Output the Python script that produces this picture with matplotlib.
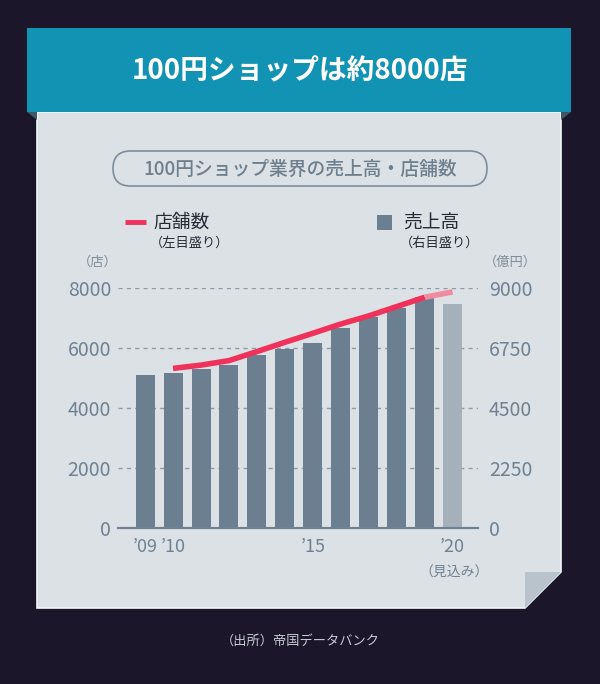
import matplotlib
matplotlib.use("Agg")
import matplotlib.pyplot as plt
from matplotlib.patches import Polygon, Rectangle, FancyBboxPatch

plt.rcParams['font.family'] = ['Noto Sans CJK JP', 'DejaVu Sans']

# data
years = [2009, 2010, 2011, 2012, 2013, 2014, 2015, 2016, 2017, 2018, 2019, 2020]
sales = [5740, 5800, 5950, 6100, 6490, 6710, 6940, 7490, 7920, 8260, 8650, 8400]  # 億円
store_years = [2010, 2011, 2012, 2013, 2014, 2015, 2016, 2017, 2018, 2019, 2020]
stores = [5320, 5430, 5580, 5880, 6190, 6490, 6800, 7070, 7380, 7690, 7870]  # 店
xtick_years = [2009, 2010, 2015, 2020]
xtick_labels = ["’09", "’10", "’15", "’20"]
left_ticks = [0, 2000, 4000, 6000, 8000]
right_ticks = [0, 2250, 4500, 6750, 9000]

W, H = 600, 684
BG = "#1b1629"
PAPER = "#dce1e5"
BAR = "#6b7f91"
BAR_EST = "#a5b0bb"
RED = "#f0325a"
RED_EST = "#f08aa0"
TXT = "#6f8294"

fig = plt.figure(figsize=(W / 100, H / 100), dpi=100, facecolor=BG)

# background decoration in pixel coords
bg = fig.add_axes([0, 0, 1, 1])
bg.set_xlim(0, W)
bg.set_ylim(H, 0)
bg.axis("off")
bg.add_patch(Polygon([(37, 112), (561, 112), (561, 572), (525, 608), (37, 608)],
                     closed=True, fc=PAPER, ec="#f4f6f8", lw=1.2))
bg.add_patch(Polygon([(525, 572), (561, 572), (525, 608)], closed=True, fc="#b9c3cc", ec="none"))
bg.add_patch(Rectangle((27, 28), 544, 84, fc="#1393b3", ec="none"))
bg.add_patch(Polygon([(27, 112), (37, 112), (37, 120)], closed=True, fc="#3f5669", ec="none"))
bg.add_patch(Polygon([(561, 112), (571, 112), (561, 120)], closed=True, fc="#3f5669", ec="none"))
bg.text(300, 71, "100円ショップは約8000店", color="white", fontsize=20, fontweight="bold",
        ha="center", va="center")
bg.add_patch(FancyBboxPatch((113, 151), 374, 35, boxstyle="round,pad=0,rounding_size=17.5",
                            fc="none", ec="#7d8d9b", lw=1.2))
bg.text(300, 169, "100円ショップ業界の売上高・店舗数", color="#6d7f8e", fontsize=13.5,
        fontweight="medium", ha="center", va="center")

# legend
bg.plot([125, 146], [222, 222], color=RED, lw=3.5, solid_capstyle="butt")
bg.text(153, 222, "店舗数", color="#262a36", fontsize=13.5, va="center", ha="left")
bg.text(150, 243, "（左目盛り）", color="#262a36", fontsize=9.5, va="center", ha="left")
bg.add_patch(Rectangle((377, 215), 15, 15, fc=BAR, ec="none"))
bg.text(403, 222, "売上高", color="#262a36", fontsize=13.5, va="center", ha="left")
bg.text(400, 243, "（右目盛り）", color="#262a36", fontsize=9.5, va="center", ha="left")

bg.text(98, 262, "（店）", color="#7d8d9b", fontsize=9.5, ha="center", va="center")
bg.text(510, 262, "（億円）", color="#7d8d9b", fontsize=9.5, ha="center", va="center")
bg.text(454, 573, "（見込み）", color=TXT, fontsize=10, ha="center", va="center")
bg.text(300, 641, "（出所）帝国データバンク", color="#c9ccd6", fontsize=9.5, ha="center", va="center")

# chart axes
ax = fig.add_axes([118 / W, (H - 528) / H, 360 / W, 240 / H])
ax2 = ax.twinx()
ax.set_zorder(ax2.get_zorder() + 1)
ax.patch.set_visible(False)
ax2.patch.set_visible(False)

colors = [BAR] * (len(years) - 1) + [BAR_EST]
ax2.bar(years, sales, width=0.68, color=colors, zorder=2)
ax2.set_ylim(0, 9000)
ax2.set_yticks(right_ticks)
ax2.set_yticklabels([str(v) for v in right_ticks])
ax2.yaxis.grid(True, color="#8e9baa", ls=(0, (3, 3)), lw=1)
ax2.set_axisbelow(True)

ax.plot(store_years[:-1], stores[:-1], color=RED, lw=4, solid_capstyle="butt",
        solid_joinstyle="round", clip_on=False, zorder=5)
ax.plot(store_years[-2:], stores[-2:], color=RED_EST, lw=4, solid_capstyle="butt",
        clip_on=False, zorder=4)
ax.set_ylim(0, 8000)
ax.set_yticks(left_ticks)
ax.set_yticklabels([str(v) for v in left_ticks])
ax.set_xlim(2008.03, 2020.91)
ax.set_xticks(xtick_years)
ax.set_xticklabels(xtick_labels)

for a in (ax, ax2):
    for s in ("top", "left", "right"):
        a.spines[s].set_visible(False)
    a.spines["bottom"].set_color("#6f8294")
    a.spines["bottom"].set_linewidth(1.5)
    a.tick_params(length=0, labelsize=14, labelcolor=TXT)
ax.tick_params(axis="y", pad=5)
ax2.tick_params(axis="y", pad=8)
ax.tick_params(axis="x", pad=7, labelsize=13)

fig.savefig("out.png", dpi=100, facecolor=BG)
